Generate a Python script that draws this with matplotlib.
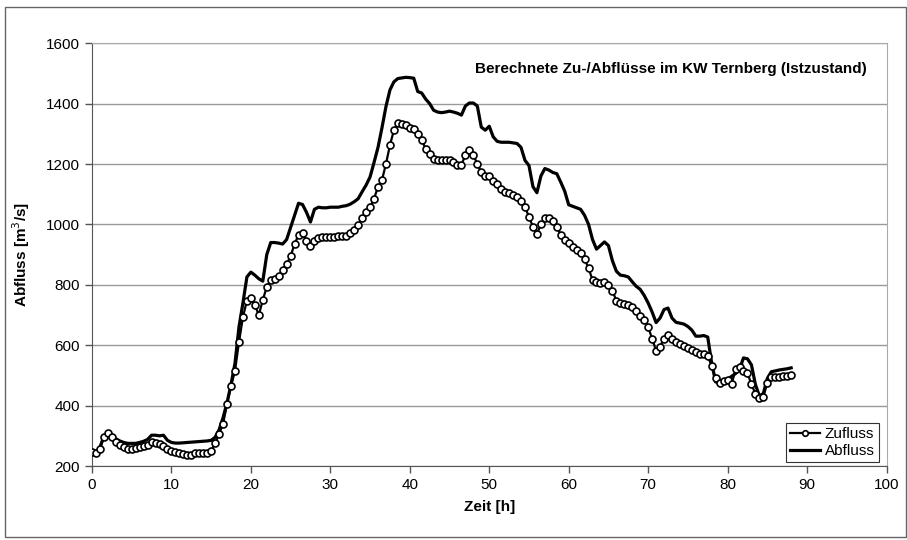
import numpy as np
import matplotlib
matplotlib.use("Agg")
import matplotlib.pyplot as plt
from matplotlib.patches import Rectangle

plt.rcParams['font.family'] = ['Liberation Sans', 'DejaVu Sans']

# Zeit in Stunden, halbstuendlich von 0 bis 88 h
zeit = np.arange(0, 88.01, 0.5)

# Zufluss [m3/s]
zufluss = [
    245, 243, 258, 295, 308, 295, 280, 270, 262, 258,
    258, 260, 262, 265, 270, 278, 276, 272, 265, 256,
    250, 245, 243, 240, 237, 238, 242, 243, 242, 243,
    250, 275, 305, 340, 405, 465, 515, 610, 693, 748,
    755, 733, 700, 750, 793, 816, 820, 828, 848, 868,
    895, 935, 965, 970, 945, 930, 945, 955, 958, 958,
    958, 958, 960, 960, 962, 970, 980, 998, 1022, 1040,
    1057, 1085, 1125, 1147, 1200, 1262, 1312, 1336, 1332, 1328,
    1320, 1315, 1298, 1280, 1250, 1232, 1218, 1213, 1213, 1213,
    1212, 1205, 1198, 1197, 1230, 1246, 1230, 1200, 1172, 1160,
    1160, 1145, 1135, 1118, 1108, 1104, 1098, 1091, 1078, 1058,
    1025, 992, 968, 1000, 1020, 1020, 1010, 992, 965, 950,
    940, 925, 915, 905, 885, 855, 816, 810, 806, 808,
    800, 780, 748, 740, 736, 733, 725, 712, 698, 683,
    660, 622, 582, 595, 622, 634, 622, 612, 603, 598,
    592, 585, 578, 570, 572, 565, 530, 490, 476, 480,
    485, 470, 520, 528, 516, 508, 470, 440, 425, 430,
    475, 495, 495, 495, 497, 498, 501,
]

# Abfluss [m3/s]
abfluss = [
    245, 245, 262, 298, 308, 300, 290, 283, 278, 275,
    275, 275, 278, 282, 288, 302, 302, 300, 302, 285,
    278, 276, 276, 277, 278, 279, 280, 281, 282, 283,
    285, 295, 320, 360, 410, 470, 540, 660, 740, 826,
    842, 832, 820, 812, 900, 940, 940, 938, 935, 950,
    990, 1030, 1070, 1066, 1040, 1008, 1050, 1057, 1055, 1055,
    1057, 1057, 1057, 1060, 1062, 1067, 1075, 1085, 1108, 1130,
    1157, 1205, 1255, 1320, 1390, 1445, 1472, 1483, 1485, 1487,
    1486, 1484, 1440, 1435, 1415, 1400, 1378, 1372, 1370, 1372,
    1375, 1372, 1368, 1362, 1392, 1402, 1402, 1392, 1322, 1312,
    1325, 1290, 1275, 1272, 1272, 1272, 1270, 1268, 1255, 1212,
    1195, 1125, 1105, 1160, 1185, 1180, 1172, 1168, 1140, 1110,
    1065, 1060, 1055, 1050, 1030, 1000, 950, 918, 930, 942,
    930, 880, 845, 832, 830, 826, 810, 795, 785, 765,
    740, 710, 675, 690, 718, 723, 690, 676, 673, 670,
    662, 650, 630, 630, 632, 627, 540, 478, 480, 482,
    487, 497, 506, 520, 558, 555, 535, 470, 432, 440,
    490, 512, 515, 518, 520, 522, 525,
]

titel = "Berechnete Zu-/Abflüsse im KW Ternberg (Istzustand)"

fig = plt.figure(figsize=(9.07, 5.40), dpi=100)
ax = fig.add_axes([0.1014, 0.137, 0.876, 0.783])

# Rahmen um das ganze Diagramm
fig.patches.append(Rectangle((0.006, 0.006), 0.993, 0.981, transform=fig.transFigure,
                             fill=False, edgecolor='#666666', linewidth=1.0))

ax.plot(zeit, abfluss, color='black', linewidth=2.3, label='Abfluss', zorder=3)
ax.plot(zeit, zufluss, color='black', linewidth=1.6, marker='o', markersize=5,
        markerfacecolor='white', markeredgecolor='black', markeredgewidth=1.2,
        label='Zufluss', zorder=4)

ax.set_xlim(0, 100)
ax.set_ylim(200, 1600)
ax.set_xticks(range(0, 101, 10))
ax.set_yticks(range(200, 1601, 200))
ax.yaxis.grid(True, color='#999999', linewidth=1.0)
ax.set_axisbelow(True)

for s in ['left', 'bottom']:
    ax.spines[s].set_color('#555555')
for s in ['top', 'right']:
    ax.spines[s].set_color('#aaaaaa')
ax.tick_params(direction='out', length=5, width=1, color='#555555', labelsize=11)

ax.set_xlabel('Zeit [h]', fontsize=11, fontweight='bold', labelpad=6)
ax.set_ylabel('Abfluss [m$^3$/s]', fontsize=11, fontweight='bold', labelpad=10)

ax.text(0.975, 0.94, titel, transform=ax.transAxes, ha='right', va='center',
        fontsize=11, fontweight='bold')

handles, labels = ax.get_legend_handles_labels()
leg = ax.legend(handles[::-1], labels[::-1], loc='lower right', fontsize=11,
                fancybox=False, framealpha=1, edgecolor='#333333',
                handlelength=2.0, handletextpad=0.3, borderpad=0.25,
                labelspacing=0.2, borderaxespad=0, markerscale=0.8,
                bbox_to_anchor=(0.99, 0.01))
leg.get_frame().set_linewidth(0.8)

fig.savefig('out.png', dpi=100)
